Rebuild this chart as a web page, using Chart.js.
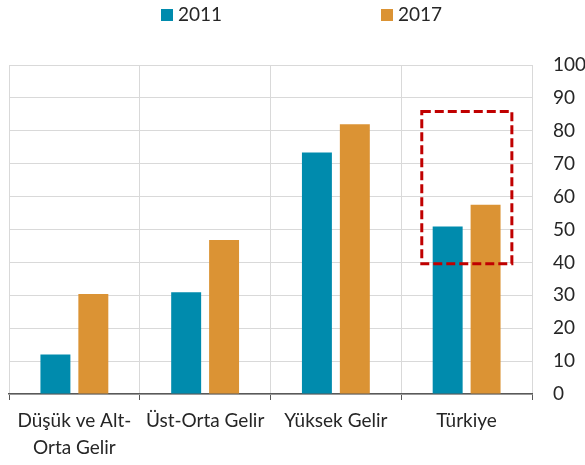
<!DOCTYPE html>
<html>
<head>
<meta charset="utf-8">
<script src="https://cdn.jsdelivr.net/npm/chart.js@4/dist/chart.umd.min.js"></script>
<style>
  body { margin: 0; background: #fff; }
  #wrap { position: relative; width: 585px; height: 465px; }
  #legend { position: absolute; top: 0; left: 0; width: 585px; height: 30px; font-family: Lato, sans-serif; font-size: 19px; color: #262626; }
  .box { position: absolute; top: 9px; width: 12px; height: 12px; }
  .lbl { position: absolute; top: 2px; line-height: 24px; }
</style>
</head>
<body>
<div id="wrap">
  <div id="legend"></div>
  <canvas id="chart" width="585" height="465"></canvas>
</div>
<script>
// Data
const categories = [["Düşük ve Alt-", "Orta Gelir"], "Üst-Orta Gelir", "Yüksek Gelir", "Türkiye"];
const seriesNames = ["2011", "2017"];
const values2011 = [12, 30.9, 73.4, 50.9];
const values2017 = [30.4, 46.8, 82, 57.5];
const yTicks = [0, 10, 20, 30, 40, 50, 60, 70, 80, 90, 100];
const colors = ["#008BAD", "#DB9334"];

// highlighted category and value range for dashed box
const highlightIndex = 3;
const highlightRange = [39.6, 85.9];

// Legend (HTML)
const legendEl = document.getElementById("legend");
const legendX = [161, 381];
seriesNames.forEach((name, i) => {
    const box = document.createElement("span");
    box.className = "box";
    box.style.left = legendX[i] + "px";
    box.style.background = colors[i];
    const lbl = document.createElement("span");
    lbl.className = "lbl";
    lbl.style.left = (legendX[i] + 17) + "px";
    lbl.textContent = name;
    legendEl.appendChild(box);
    legendEl.appendChild(lbl);
});

// Dashed box around the highlighted bars
const highlightBox = {
    id: "highlightBox",
    afterDatasetsDraw(chart) {
        const { ctx, scales } = chart;
        const x0 = scales.x.getPixelForValue(highlightIndex - 0.343);
        const x1 = scales.x.getPixelForValue(highlightIndex + 0.346);
        const y0 = scales.y.getPixelForValue(highlightRange[1]);
        const y1 = scales.y.getPixelForValue(highlightRange[0]);
        ctx.save();
        ctx.strokeStyle = "#C00000";
        ctx.lineWidth = 3;
        ctx.setLineDash([9, 4]);
        ctx.strokeRect(x0, y0, x1 - x0, y1 - y0);
        ctx.restore();
    }
};

const ctx = document.getElementById("chart").getContext("2d");
new Chart(ctx, {
    type: "bar",
    data: {
        labels: categories,
        datasets: [
            { label: seriesNames[0], data: values2011, backgroundColor: colors[0] },
            { label: seriesNames[1], data: values2017, backgroundColor: colors[1] }
        ]
    },
    options: {
        responsive: false,
        animation: false,
        layout: { padding: { top: 65, left: 9, right: 0, bottom: 0 } },
        categoryPercentage: 0.58,
        barPercentage: 0.79,
        plugins: {
            legend: { display: false },
            tooltip: { enabled: false }
        },
        scales: {
            x: {
                afterFit: axis => { axis.height = 71; },
                grid: { color: "#D9D9D9", tickColor: "#595959", tickLength: 6, offset: true },
                border: { color: "#595959", width: 1.5 },
                ticks: { color: "#262626", font: { family: "Lato", size: 19, lineHeight: 1.4 }, padding: 8, maxRotation: 0 }
            },
            y: {
                position: "right",
                min: 0,
                max: 100,
                afterFit: axis => { axis.width = 53; },
                afterBuildTicks: axis => { axis.ticks = yTicks.map(v => ({ value: v })); },
                grid: { color: "#D9D9D9", drawTicks: false },
                border: { display: false },
                ticks: { color: "#262626", font: { family: "Lato", size: 19 }, padding: 21 }
            }
        }
    },
    plugins: [highlightBox]
});
</script>
</body>
</html>
